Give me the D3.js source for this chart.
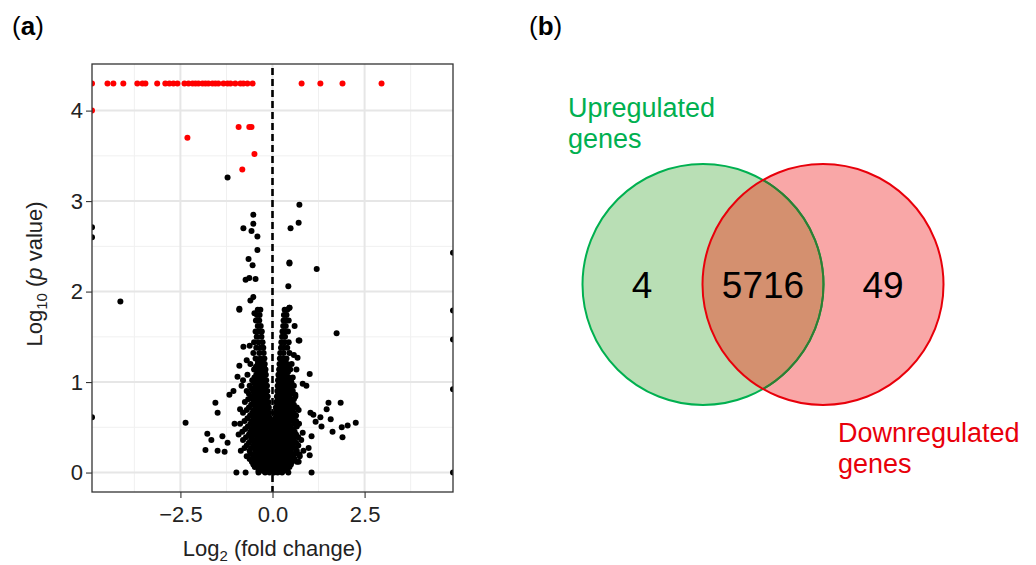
<!DOCTYPE html>
<html>
<head>
<meta charset="utf-8">
<script src="https://cdn.jsdelivr.net/npm/d3@7"></script>
<style>
body { margin: 0; background: #fff; }
svg text { font-family: "Liberation Sans", Arial, sans-serif; }
.axis path { display: none; }
.axis line { stroke: #333; stroke-width: 1.1; }
.axis text { fill: #222; font-size: 22px; }
</style>
</head>
<body>
<div id="chart"></div>
<script>
// volcano plot data: [log2 fold change, log10 p]
var xTicks = [-2.5, 0, 2.5],
    xMinor = [-3.75, -1.25, 1.25, 3.75],
    yTicks = [0, 1, 2, 3, 4],
    yMinor = [0.5, 1.5, 2.5, 3.5];

var redPoints = [
  [-4.9, 4.3], [-4.48, 4.3], [-4.32, 4.3], [-4.05, 4.3], [-3.67, 4.3], [-3.53, 4.3], [-3.45, 4.3],
  [-3.13, 4.3], [-2.91, 4.3], [-2.80, 4.3], [-2.69, 4.3], [-2.58, 4.3], [-2.39, 4.3], [-2.28, 4.3],
  [-2.17, 4.3], [-2.09, 4.3], [-2.01, 4.3], [-1.90, 4.3], [-1.82, 4.3], [-1.74, 4.3], [-1.63, 4.3],
  [-1.55, 4.3], [-1.47, 4.3], [-1.33, 4.3], [-1.22, 4.3], [-1.14, 4.3], [-1.01, 4.3], [-0.87, 4.3],
  [-0.79, 4.3], [-0.68, 4.3], [-0.54, 4.3], [0.79, 4.3], [1.30, 4.3], [1.90, 4.3], [2.96, 4.3],
  [-4.9, 4.0], [-0.92, 3.82], [-0.63, 3.82], [-0.57, 3.82], [-2.31, 3.70], [-0.49, 3.52], [-0.82, 3.35]
];

var blackPoints = [
  [-1.22, 3.26], [0.73, 2.96], [-0.52, 2.85], [-0.52, 2.75], [-0.79, 2.70], [-0.57, 2.67], [-0.41, 2.61],
  [0.49, 2.70], [0.71, 2.76], [-4.9, 2.71], [-4.9, 2.60], [-0.41, 2.46], [-0.65, 2.36], [-0.54, 2.29],
  [-0.73, 2.13], [-0.63, 2.15], [-0.46, 2.14], [0.46, 2.32], [1.20, 2.25], [0.43, 2.06], [-0.52, 1.94],
  [-0.60, 1.90], [-0.90, 1.81], [0.46, 1.82], [-0.49, 1.76], [1.74, 1.54], [0.71, 1.46], [-4.13, 1.89],
  [-2.36, 0.55], [-1.55, 0.77], [-1.49, 0.66], [-1.77, 0.43], [-1.66, 0.36], [-1.82, 0.25], [-1.49, 0.24],
  [-1.30, 0.23], [-1.36, 0.40], [-1.22, 0.33], [-1.03, 0.54], [-1.17, 0.86], [-1.06, 0.90], [-0.95, 1.06],
  [-0.90, 1.18], [-0.79, 1.39], [-0.90, 1.80], [1.52, 0.77], [1.85, 0.77], [1.47, 0.70], [1.30, 0.61],
  [1.17, 0.56], [1.03, 0.66], [1.11, 0.64], [1.33, 0.51], [1.58, 0.59], [1.63, 0.45], [1.88, 0.50],
  [2.04, 0.52], [2.26, 0.55], [1.90, 0.39], [1.01, 1.09], [0.82, 0.98], [0.92, 0.96], [0.71, 0.69],
  [0.82, 0.44], [1.06, 0.40], [0.98, 0.27], [1.01, 0.19], [0.73, 0.20], [0.71, 0.12], [0.68, 1.27],
  [0.73, 1.46], [0.65, 1.14], [0.46, 2.31], [0.46, 1.82], [-0.88, 0.70], [-0.84, 0.96], [0.60, 1.62],
  [-0.70, 1.24], [-0.62, 1.40], [0.58, 1.30], [0.55, 1.05], [-0.80, 1.02], [0.62, 0.86],
  [4.9, 2.43], [4.9, 1.79], [4.9, 1.47], [4.9, 0.92], [4.9, 0], [-4.9, 0.61]
];

// dense core of the volcano, read row by row: [log10 p, x values...]
var coreRows = [
  [1.80, -0.40, -0.33, 0.33, 0.40],
  [1.74, -0.42, -0.35, 0.31, 0.38],
  [1.68, -0.45, -0.36, 0.30, 0.37, 0.44],
  [1.62, -0.40, -0.32, 0.29, 0.36],
  [1.56, -0.46, -0.37, -0.29, 0.27, 0.35, 0.42],
  [1.50, -0.43, -0.30, 0.26, 0.34],
  [1.44, -0.50, -0.38, -0.27, 0.24, 0.33, 0.44],
  [1.38, -0.44, -0.33, -0.25, 0.23, 0.31, 0.40],
  [1.32, -0.52, -0.36, -0.24, 0.21, 0.30, 0.46],
  [1.26, -0.46, -0.33, -0.22, 0.20, 0.29, 0.38],
  [1.23, -0.39, -0.27, 0.25, 0.34],
  [1.20, -0.60, -0.40, -0.29, -0.21, 0.19, 0.28, 0.40, 0.52],
  [1.17, -0.45, -0.33, -0.23, 0.22, 0.32, 0.43],
  [1.14, -0.50, -0.36, -0.26, -0.19, 0.18, 0.27, 0.36, 0.48],
  [1.11, -0.40, -0.29, -0.21, 0.20, 0.31, 0.42],
  [1.08, -0.68, -0.44, -0.32, -0.18, 0.16, 0.26, 0.38],
  [1.05, -0.49, -0.36, -0.24, 0.19, 0.30, 0.44],
  [1.02, -0.55, -0.40, -0.28, -0.17, 0.15, 0.25, 0.35, 0.50],
  [0.99, -0.50, -0.38, -0.29, -0.20, 0.18, 0.28, 0.39, 0.52],
  [0.96, -0.62, -0.46, -0.34, -0.24, -0.15, 0.14, 0.23, 0.33, 0.45, 0.58],
  [0.93, -0.57, -0.45, -0.34, -0.21, 0.17, 0.27, 0.37, 0.49],
  [0.90, -0.70, -0.52, -0.40, -0.28, -0.14, 0.13, 0.22, 0.32, 0.42, 0.55],
  [0.87, -0.64, -0.49, -0.38, -0.26, -0.18, 0.16, 0.26, 0.36, 0.50],
  [0.84, -0.58, -0.44, -0.33, -0.22, -0.13, 0.12, 0.21, 0.31, 0.45, 0.62],
  [0.81, -0.66, -0.54, -0.42, -0.30, -0.19, 0.15, 0.25, 0.36, 0.48, 0.58],
  [0.78, -0.75, -0.50, -0.38, -0.27, -0.17, -0.11, 0.10, 0.19, 0.28, 0.40, 0.52],
  [0.75, -0.58, -0.44, -0.31, -0.20, -0.13, 0.13, 0.23, 0.33, 0.44, 0.58],
  [0.72, -0.64, -0.46, -0.33, -0.22, -0.10, 0.09, 0.18, 0.28, 0.38, 0.50, 0.66],
  [0.69, -0.70, -0.51, -0.38, -0.26, -0.14, 0.12, 0.22, 0.31, 0.42, 0.54],
  [0.66, -0.80, -0.55, -0.41, -0.28, -0.17, -0.09, 0.08, 0.17, 0.26, 0.36, 0.46, 0.58],
  [0.63, -0.61, -0.46, -0.32, -0.21, -0.12, 0.11, 0.20, 0.30, 0.40, 0.51, 0.64],
  [0.60, -0.68, -0.50, -0.36, -0.24, -0.13, -0.07, 0.07, 0.15, 0.24, 0.34, 0.44, 0.56],
  [0.57, -0.76, -0.56, -0.42, -0.29, -0.17, -0.04, 0.03, 0.10, 0.19, 0.28, 0.38, 0.50, 0.64],
  [0.54, -0.88, -0.60, -0.46, -0.32, -0.20, -0.10, 0.06, 0.14, 0.23, 0.33, 0.44, 0.60, 0.72],
  [0.51, -0.67, -0.52, -0.38, -0.26, -0.14, -0.03, 0.09, 0.18, 0.28, 0.38, 0.49, 0.66],
  [0.48, -0.74, -0.55, -0.40, -0.27, -0.16, -0.06, 0.04, 0.12, 0.22, 0.32, 0.42, 0.54],
  [0.45, -0.82, -0.60, -0.45, -0.31, -0.20, -0.09, 0.01, 0.09, 0.19, 0.29, 0.40, 0.52, 0.60],
  [0.42, -0.92, -0.64, -0.50, -0.36, -0.24, -0.13, -0.03, 0.06, 0.16, 0.26, 0.36, 0.48, 0.64],
  [0.39, -0.72, -0.56, -0.41, -0.29, -0.18, -0.07, 0.04, 0.14, 0.24, 0.34, 0.46, 0.58, 0.70],
  [0.36, -0.80, -0.58, -0.44, -0.31, -0.19, -0.08, 0.02, 0.12, 0.22, 0.32, 0.44, 0.58, 0.78],
  [0.33, -0.64, -0.48, -0.35, -0.24, -0.13, -0.03, 0.07, 0.17, 0.27, 0.38, 0.50, 0.64],
  [0.30, -0.70, -0.52, -0.38, -0.25, -0.13, -0.02, 0.08, 0.18, 0.28, 0.40, 0.54, 0.70],
  [0.27, -0.76, -0.57, -0.42, -0.29, -0.17, -0.06, 0.04, 0.13, 0.23, 0.34, 0.46, 0.60],
  [0.24, -0.86, -0.62, -0.46, -0.33, -0.20, -0.08, 0.03, 0.14, 0.24, 0.36, 0.50, 0.66, 0.84],
  [0.21, -0.60, -0.45, -0.31, -0.19, -0.07, 0.03, 0.13, 0.24, 0.35, 0.48, 0.62],
  [0.18, -0.70, -0.52, -0.38, -0.25, -0.13, -0.02, 0.08, 0.19, 0.30, 0.42, 0.56, 0.74],
  [0.15, -0.62, -0.47, -0.33, -0.20, -0.08, 0.02, 0.11, 0.22, 0.33, 0.46, 0.60],
  [0.12, -0.56, -0.42, -0.29, -0.17, -0.06, 0.05, 0.15, 0.26, 0.38, 0.52, 0.66],
  [0.09, -0.52, -0.39, -0.27, -0.15, -0.04, 0.05, 0.14, 0.25, 0.36, 0.50],
  [0.06, -0.48, -0.35, -0.22, -0.10, 0.00, 0.10, 0.21, 0.33, 0.46],
  [0.02, -0.38, -0.26, -0.14, -0.04, 0.06, 0.16, 0.28, 0.40],
  [0.00, -0.98, -0.73, -0.38, -0.20, -0.08, 0.04, 0.14, 0.26, 0.43, 1.06]
];

// venn data
var vennSets = [["Upregulated", "genes"], ["Downregulated", "genes"]],
    vennCounts = [4, 5716, 49];

var W = 1036, H = 565;
var svg = d3.select("#chart").append("svg").attr("width", W).attr("height", H);

var margin = {top: 64, left: 92},
    width = 361, height = 428;

var x = d3.scaleLinear().domain([-4.9, 4.9]).range([0, width]),
    y = d3.scaleLinear().domain([-0.215, 4.515]).range([height, 0]);

var g = svg.append("g").attr("transform", "translate(" + margin.left + "," + margin.top + ")");

svg.append("defs").append("clipPath").attr("id", "clip")
  .append("rect").attr("width", width).attr("height", height);

// grid
g.selectAll(".xminor").data(xMinor).enter().append("line")
    .attr("x1", x).attr("x2", x).attr("y1", 0).attr("y2", height)
    .attr("stroke", "#f0f0f0").attr("stroke-width", 1);
g.selectAll(".yminor").data(yMinor).enter().append("line")
    .attr("y1", y).attr("y2", y).attr("x1", 0).attr("x2", width)
    .attr("stroke", "#f0f0f0").attr("stroke-width", 1);
g.selectAll(".xmajor").data(xTicks).enter().append("line")
    .attr("x1", x).attr("x2", x).attr("y1", 0).attr("y2", height)
    .attr("stroke", "#e6e6e6").attr("stroke-width", 2);
g.selectAll(".ymajor").data(yTicks).enter().append("line")
    .attr("y1", y).attr("y2", y).attr("x1", 0).attr("x2", width)
    .attr("stroke", "#e6e6e6").attr("stroke-width", 2);

// points
var core = [];
coreRows.forEach(function(r) {
  r.slice(1).forEach(function(v) { core.push([v, r[0]]); });
});

var pts = g.append("g").attr("clip-path", "url(#clip)");
pts.selectAll(".core").data(core).enter().append("circle")
    .attr("cx", function(d) { return x(d[0]); })
    .attr("cy", function(d) { return y(d[1]); })
    .attr("r", 3).attr("fill", "#000");
pts.selectAll(".blk").data(blackPoints).enter().append("circle")
    .attr("cx", function(d) { return x(d[0]); })
    .attr("cy", function(d) { return y(d[1]); })
    .attr("r", 3).attr("fill", "#000");
pts.selectAll(".red").data(redPoints).enter().append("circle")
    .attr("cx", function(d) { return x(d[0]); })
    .attr("cy", function(d) { return y(d[1]); })
    .attr("r", 3).attr("fill", "#ff0000");

// dashed zero line
g.append("line")
    .attr("x1", x(0)).attr("x2", x(0)).attr("y1", 4).attr("y2", height)
    .attr("stroke", "#000").attr("stroke-width", 2.6).attr("stroke-dasharray", "7,4");

g.append("rect").attr("width", width).attr("height", height)
    .attr("fill", "none").attr("stroke", "#333").attr("stroke-width", 1.3);

g.append("g").attr("class", "axis")
    .attr("transform", "translate(0," + height + ")")
    .call(d3.axisBottom(x).tickValues(xTicks).tickSize(6).tickPadding(8)
      .tickFormat(function(d) { return d3.format(".1f")(d).replace("-", "\u2212"); }));

g.append("g").attr("class", "axis")
    .call(d3.axisLeft(y).tickValues(yTicks).tickSize(6).tickPadding(3).tickFormat(d3.format("d")));

// axis titles
var xt = svg.append("text").attr("x", margin.left + width / 2).attr("y", 556)
    .attr("text-anchor", "middle").attr("font-size", 22).attr("fill", "#222");
xt.append("tspan").text("Log");
xt.append("tspan").attr("font-size", 15).attr("dy", 5).text("2");
xt.append("tspan").attr("dy", -5).text(" (fold change)");

var yt = svg.append("text").attr("transform", "translate(42,274) rotate(-90)")
    .attr("text-anchor", "middle").attr("font-size", 22).attr("fill", "#222");
yt.append("tspan").text("Log");
yt.append("tspan").attr("font-size", 15).attr("dy", 5).text("10");
yt.append("tspan").attr("dy", -5).text(" (");
yt.append("tspan").attr("font-style", "italic").text("p");
yt.append("tspan").text(" value)");

// panel labels
[["a", 12], ["b", 529]].forEach(function(p) {
  var t = svg.append("text").attr("x", p[1]).attr("y", 35).attr("font-size", 26).attr("fill", "#000");
  t.append("tspan").text("(");
  t.append("tspan").attr("font-weight", "bold").text(p[0]);
  t.append("tspan").text(")");
});

// venn diagram
var cx = d3.scaleLinear().domain([0, 1]).range([703, 823]),
    cy = 284.5, R = 120.5;

var defs = svg.select("defs");
defs.append("clipPath").attr("id", "clipRed")
  .append("circle").attr("cx", cx(1)).attr("cy", cy).attr("r", R);

var venn = svg.append("g");
venn.append("circle").attr("cx", cx(0)).attr("cy", cy).attr("r", R).attr("fill", "#b9dfb5");
venn.append("circle").attr("cx", cx(1)).attr("cy", cy).attr("r", R).attr("fill", "#f9a7a7");
venn.append("circle").attr("cx", cx(0)).attr("cy", cy).attr("r", R)
    .attr("fill", "#d4906f").attr("clip-path", "url(#clipRed)");
venn.append("circle").attr("cx", cx(0)).attr("cy", cy).attr("r", R)
    .attr("fill", "none").attr("stroke", "#00b050").attr("stroke-width", 2);
venn.append("circle").attr("cx", cx(0)).attr("cy", cy).attr("r", R)
    .attr("fill", "none").attr("stroke", "#2f7d32").attr("stroke-width", 2)
    .attr("clip-path", "url(#clipRed)");
venn.append("circle").attr("cx", cx(1)).attr("cy", cy).attr("r", R)
    .attr("fill", "none").attr("stroke", "#e8000b").attr("stroke-width", 2);

venn.selectAll(".count").data(vennCounts).enter().append("text")
    .attr("x", function(d, i) { return [642, 763, 883][i]; })
    .attr("y", 298).attr("text-anchor", "middle")
    .attr("font-size", 37).attr("fill", "#000")
    .text(function(d) { return d; });

var labelPos = [[568, 117, "#00b050"], [838, 442, "#e8000b"]];
vennSets.forEach(function(lines, i) {
  var t = venn.append("text").attr("font-size", 27).attr("fill", labelPos[i][2]);
  lines.forEach(function(s, j) {
    t.append("tspan").attr("x", labelPos[i][0]).attr("y", labelPos[i][1] + j * 31).text(s);
  });
});
</script>
</body>
</html>
